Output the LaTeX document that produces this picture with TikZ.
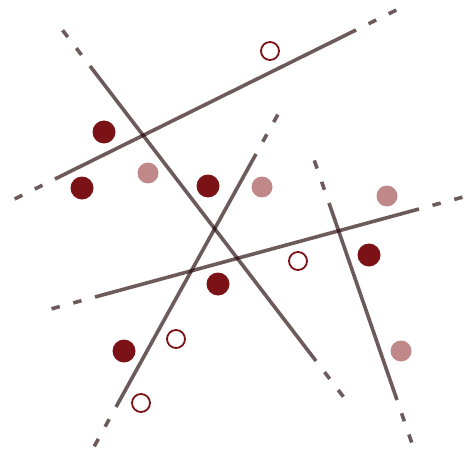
\documentclass[tikz,border=0pt]{standalone}
\usetikzlibrary{calc}
\definecolor{linecol}{RGB}{30,2,2}
\definecolor{darkdot}{RGB}{123,18,22}
\definecolor{lightdot}{RGB}{192,136,136}
\tikzset{
  solidline/.style={draw=linecol, draw opacity=0.65, line width=3.6pt, line cap=butt},
  extline/.style={solidline, dash pattern=on 0pt off 14pt on 8.5pt off 14pt on 8.5pt off 100pt},
  fulldot/.style={circle, fill=darkdot, inner sep=0pt, minimum size=23pt},
  paledot/.style={circle, fill=lightdot, inner sep=0pt, minimum size=21pt},
  opendot/.style={circle, draw=darkdot, line width=1.8pt, fill=white, inner sep=0pt, minimum size=18pt},
}
\begin{document}
\begin{tikzpicture}[x=1pt,y=-1pt]
\useasboundingbox (0,0) rectangle (465,457);
% line endpoints (solid parts)
\coordinate (a1) at (55,179);  \coordinate (a2) at (356,30);
\coordinate (b1) at (90,66);   \coordinate (b2) at (316,361);
\coordinate (c1) at (116,407); \coordinate (c2) at (256,154);
\coordinate (d1) at (95,297);  \coordinate (d2) at (419,209);
\coordinate (e1) at (329,203); \coordinate (e2) at (397,400);
% solid parts and dashed extensions
\foreach \p/\q in {a1/a2,b1/b2,c1/c2,d1/d2,e1/e2}{
  \draw[solidline] (\p) -- (\q);
  \draw[extline] (\q) -- ($(\q)!-46pt!(\p)$);
  \draw[extline] (\p) -- ($(\p)!-46pt!(\q)$);
}
% dots
\node[fulldot] (f1) at (104,132) {};
\node[fulldot] (f2) at (82,188) {};
\node[fulldot] (f3) at (208,186) {};
\node[fulldot] (f4) at (218,284) {};
\node[fulldot] (f5) at (124,351) {};
\node[fulldot] (f6) at (369,255) {};
\node[paledot] (p1) at (148,173) {};
\node[paledot] (p2) at (262,187) {};
\node[paledot] (p3) at (387,196) {};
\node[paledot] (p4) at (401,351) {};
\node[opendot] (o1) at (270,51) {};
\node[opendot] (o2) at (176,339) {};
\node[opendot] (o3) at (141,403) {};
\node[opendot] (o4) at (298,261) {};
\end{tikzpicture}
\end{document}
